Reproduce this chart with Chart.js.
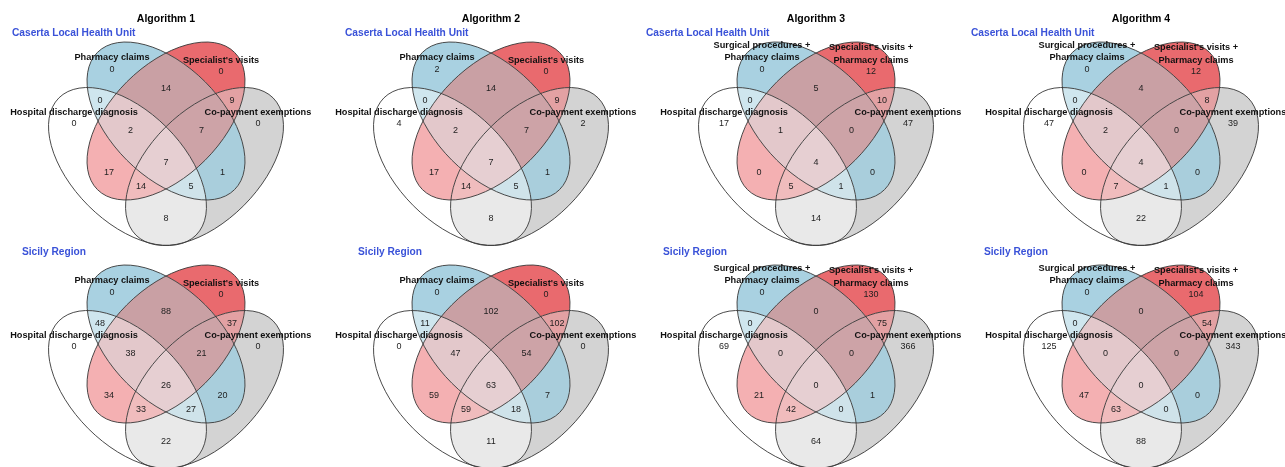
<!DOCTYPE html>
<html>
<head>
<meta charset="utf-8">
<script src="https://cdn.jsdelivr.net/npm/chart.js@4.4.1/dist/chart.umd.min.js"></script>
<style>
  html, body { margin: 0; padding: 0; background: #ffffff; }
  #wrap { position: relative; width: 1285px; height: 467px; overflow: hidden; background: #ffffff; }
  #wrap canvas { position: absolute; }
</style>
</head>
<body>
<div id="wrap"></div>
<script>
// ---- Data ---------------------------------------------------------------
// Region keys: H = hospital discharge diagnosis, P = pharmacy claims
// (or surgical procedures + pharmacy claims), S = specialist's visits
// (or specialist's visits + pharmacy claims), C = co-payment exemptions.
const regionKeys = ["H", "P", "S", "C", "HP", "HS", "HC", "PS", "PC", "SC", "HPS", "HPC", "HSC", "PSC", "HPSC"];

const algorithmTitles = ["Algorithm 1", "Algorithm 2", "Algorithm 3", "Algorithm 4"];
const areaNames = ["Caserta Local Health Unit", "Sicily Region"];

const setNamesSingle = ["Hospital discharge diagnosis", "Pharmacy claims", "Specialist's visits", "Co-payment exemptions"];
const setNamesPaired = ["Hospital discharge diagnosis", ["Surgical procedures +", "Pharmacy claims"], ["Specialist's visits +", "Pharmacy claims"], "Co-payment exemptions"];

//                   H    P    S    C    HP  HS  HC  PS   PC  SC   HPS HPC HSC PSC HPSC
const casertaAlg1 = [0,   0,   0,   0,   0,  17, 8,  14,  1,  9,   2,  5,  14, 7,  7];
const casertaAlg2 = [4,   2,   0,   2,   0,  17, 8,  14,  1,  9,   2,  5,  14, 7,  7];
const casertaAlg3 = [17,  0,   12,  47,  0,  0,  14, 5,   0,  10,  1,  1,  5,  0,  4];
const casertaAlg4 = [47,  0,   12,  39,  0,  0,  22, 4,   0,  8,   2,  1,  7,  0,  4];
const sicilyAlg1  = [0,   0,   0,   0,   48, 34, 22, 88,  20, 37,  38, 27, 33, 21, 26];
const sicilyAlg2  = [0,   0,   0,   0,   11, 59, 11, 102, 7,  102, 47, 18, 59, 54, 63];
const sicilyAlg3  = [69,  0,   130, 366, 0,  21, 64, 0,   1,  75,  0,  0,  42, 0,  0];
const sicilyAlg4  = [125, 0,   104, 343, 0,  47, 88, 0,   0,  54,  0,  0,  63, 0,  0];

// ---- Layout (units = semi-major axis of an ellipse, y pointing up) ------
const PX_PER_UNIT = 97;
const setLetters = ["H", "P", "S", "C"];
const ellipses = [
  { cx: -0.397, cy: -0.469, a: 1, b: 0.571, rot:  Math.PI / 4 },  // H
  { cx:  0,     cy:  0,     a: 1, b: 0.571, rot:  Math.PI / 4 },  // P
  { cx:  0,     cy:  0,     a: 1, b: 0.571, rot: -Math.PI / 4 },  // S
  { cx:  0.397, cy: -0.469, a: 1, b: 0.571, rot: -Math.PI / 4 }   // C
];
const regionAnchors = {
  H: [-0.948, -0.021], P: [-0.557, 0.526], S: [0.567, 0.515], C: [0.948, -0.021],
  HP: [-0.680, 0.216], HS: [-0.588, -0.536], HC: [0, -1.010], PS: [0, 0.340],
  PC: [0.582, -0.536], SC: [0.680, 0.216], HPS: [-0.366, -0.093], HPC: [0.258, -0.680],
  HSC: [-0.258, -0.680], PSC: [0.366, -0.093], HPSC: [0, -0.423]
};
const regionColors = {
  H: "#ffffff", P: "#a9d1e1", S: "#e96a6e", C: "#d3d3d3",
  HP: "#cfe6ee", HS: "#f4b0b2", HC: "#e9e9e9", PS: "#c9a0a4",
  PC: "#a9cedc", SC: "#e3a1a3", HPS: "#e3c8cb", HPC: "#cfe3ea",
  HSC: "#f0bcbd", PSC: "#cda3a7", HPSC: "#e6cfd2"
};
// set-name anchors: [x, y of last line, line gap]
const setLabelAnchors = [[-0.948, 0.093, 0.12], [-0.557, 0.660, 0.12], [0.567, 0.619, 0.141], [0.948, 0.093, 0.12]];
const titleY = 1.052;
const areaLabelY = [0.907, 0.945];
const areaLabelX = [[-1.588, -1.505, -1.753, -1.753], [-1.485, -1.371, -1.577, -1.619]];

const panelCenters = [166, 491, 816, 1141];
const rowTops = [0, 223];
const rowHeights = [250, 244];
const CENTER_FROM_TOP = 121;
const HALF_W = 175;

const FONT = "'Liberation Sans', Arial, Helvetica, sans-serif";

// ---- Drawing plugin -----------------------------------------------------
const vennPlugin = {
  id: 'venn',
  beforeDatasetsDraw(chart) {
    const { ctx, scales: { x, y } } = chart;
    const unit = x.getPixelForValue(1) - x.getPixelForValue(0);
    const shapes = ellipses.map(e => ({
      cx: x.getPixelForValue(e.cx), cy: y.getPixelForValue(e.cy),
      rx: e.a * unit, ry: e.b * unit, rot: e.rot
    }));
    const addEllipse = s => {
      ctx.moveTo(s.cx + s.rx * Math.cos(s.rot), s.cy + s.rx * Math.sin(s.rot));
      ctx.ellipse(s.cx, s.cy, s.rx, s.ry, s.rot, 0, Math.PI * 2);
    };
    // fill each region of the four-set diagram
    regionKeys.forEach(k => {
      ctx.save();
      setLetters.forEach((L, i) => {
        ctx.beginPath();
        if (k.includes(L)) {
          addEllipse(shapes[i]);
          ctx.clip();
        } else {
          ctx.rect(-10, -10, chart.width + 20, chart.height + 20);
          addEllipse(shapes[i]);
          ctx.clip('evenodd');
        }
      });
      ctx.fillStyle = regionColors[k];
      ctx.fillRect(0, 0, chart.width, chart.height);
      ctx.restore();
    });
    // outlines
    ctx.save();
    ctx.strokeStyle = "rgba(55,55,55,0.9)";
    ctx.lineWidth = 1;
    shapes.forEach(s => { ctx.beginPath(); addEllipse(s); ctx.stroke(); });
    ctx.restore();
  },
  afterDatasetsDraw(chart, args, opts) {
    const { ctx, scales: { x, y } } = chart;
    ctx.save();
    ctx.textBaseline = "middle";
    // region counts at the dataset's points
    const ds = chart.data.datasets[0];
    const meta = chart.getDatasetMeta(0);
    ctx.font = "9px " + FONT;
    ctx.fillStyle = "#1e1e1e";
    ctx.textAlign = "center";
    meta.data.forEach((pt, i) => ctx.fillText(String(ds.counts[i]), pt.x, pt.y));
    // set names
    ctx.font = "bold 9.2px " + FONT;
    ctx.fillStyle = "#111111";
    opts.setNames.forEach((name, i) => {
      const lines = Array.isArray(name) ? name : [name];
      const [ax, ay, gap] = setLabelAnchors[i];
      lines.forEach((ln, j) => {
        const yy = ay + (lines.length - 1 - j) * gap;
        ctx.fillText(ln, x.getPixelForValue(ax), y.getPixelForValue(yy));
      });
    });
    // panel title
    if (opts.title) {
      ctx.font = "bold 10.5px " + FONT;
      ctx.fillStyle = "#000000";
      ctx.fillText(opts.title, x.getPixelForValue(0), y.getPixelForValue(titleY));
    }
    // area label
    ctx.font = "bold 10.2px " + FONT;
    ctx.fillStyle = "#3a52d8";
    ctx.textAlign = "left";
    ctx.fillText(opts.area, x.getPixelForValue(opts.areaX), y.getPixelForValue(opts.areaY));
    ctx.restore();
  }
};

// ---- Build the eight panels ---------------------------------------------
const panelCounts = [
  [casertaAlg1, casertaAlg2, casertaAlg3, casertaAlg4],
  [sicilyAlg1, sicilyAlg2, sicilyAlg3, sicilyAlg4]
];
const wrap = document.getElementById('wrap');

for (let r = 0; r < 2; r++) {
  for (let c = 0; c < 4; c++) {
    const canvas = document.createElement('canvas');
    const w = HALF_W * 2, h = rowHeights[r];
    canvas.width = w; canvas.height = h;
    canvas.style.width = w + "px"; canvas.style.height = h + "px";
    canvas.style.left = (panelCenters[c] - HALF_W) + "px";
    canvas.style.top = rowTops[r] + "px";
    wrap.appendChild(canvas);

    const counts = panelCounts[r][c];
    new Chart(canvas, {
      type: 'scatter',
      data: {
        datasets: [{
          data: regionKeys.map(k => ({ x: regionAnchors[k][0], y: regionAnchors[k][1] })),
          counts: counts,
          pointRadius: 0,
          pointHoverRadius: 0
        }]
      },
      options: {
        responsive: false,
        animation: false,
        devicePixelRatio: 1,
        events: [],
        layout: { padding: 0 },
        scales: {
          x: { type: 'linear', display: false, min: -HALF_W / PX_PER_UNIT, max: HALF_W / PX_PER_UNIT },
          y: { type: 'linear', display: false,
               min: -(h - CENTER_FROM_TOP) / PX_PER_UNIT, max: CENTER_FROM_TOP / PX_PER_UNIT }
        },
        plugins: {
          legend: { display: false },
          tooltip: { enabled: false },
          venn: {
            title: r === 0 ? algorithmTitles[c] : null,
            area: areaNames[r],
            areaX: areaLabelX[r][c],
            areaY: areaLabelY[r],
            setNames: c < 2 ? setNamesSingle : setNamesPaired
          }
        }
      },
      plugins: [vennPlugin]
    });
  }
}
</script>
</body>
</html>
